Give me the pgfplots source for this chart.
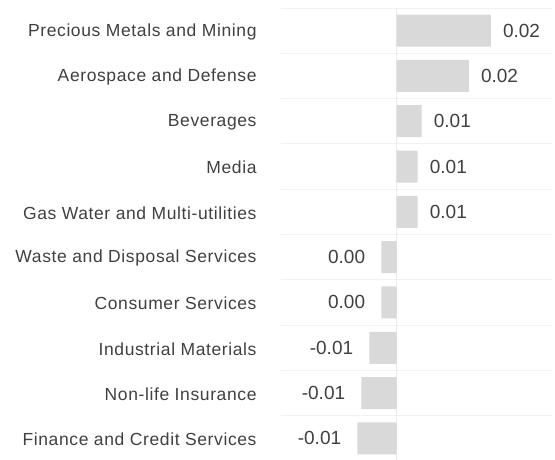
\documentclass[border=0pt]{standalone}
\usepackage{pgfplots}
\pgfplotsset{compat=1.18}
\usepackage{pgfplotstable}
\usepackage{fontspec}
\setmainfont{Liberation Sans}
\newfontfamily\labfont[LetterSpace=3.5]{Liberation Sans}
\definecolor{barc}{HTML}{D9D9D9}
\definecolor{txt}{HTML}{404040}
\definecolor{gridc}{HTML}{F2F2F2}
\definecolor{zeroc}{HTML}{EAEAEA}

\pgfplotstableread{
idx val lab
0 0.0236 0.02
1 0.0181 0.02
2 0.0063 0.01
3 0.0053 0.01
4 0.0053 0.01
}\pos
\pgfplotstableread{
idx val lab
5 -0.0038 0.00
6 -0.0038 0.00
7 -0.0068 -0.01
8 -0.0088 -0.01
9 -0.0098 -0.01
}\negv

\begin{document}
\begin{tikzpicture}
\path[use as bounding box] (0,0) rectangle (555pt,460pt);
\begin{axis}[
  at={(281pt,-1pt)}, anchor=south west,
  scale only axis, width=271pt, height=453pt,
  xmin=-0.0289, xmax=0.0389,
  ymin=-0.5, ymax=9.5, y dir=reverse,
  xbar, bar width=32pt,
  axis line style={draw=none},
  tick style={draw=none},
  xtick=\empty,
  extra x ticks={0}, extra x tick labels={},
  extra x tick style={xmajorgrids=true, major grid style={draw=zeroc, line width=1pt}},
  ytick={0,...,9},
  yticklabels={Precious Metals and Mining, Aerospace and Defense, Beverages, Media, Gas Water and Multi-utilities, Waste and Disposal Services, Consumer Services, Industrial Materials, Non-life Insurance, Finance and Credit Services},
  yticklabel style={font=\labfont\fontsize{17.5}{20}\selectfont, text=txt, inner sep=0pt, xshift=-20pt, yshift=-1pt, anchor=east},
  minor ytick={-0.5,0.5,...,8.5},
  yminorgrids=true,
  minor grid style={draw=gridc, line width=0.8pt},
  nodes near coords,
  point meta=explicit symbolic,
  every node near coord/.append style={font=\fontsize{19}{22}\selectfont, text=txt, inner sep=0pt},
]
\addplot[fill=barc, draw=none, bar shift=0pt, every node near coord/.append style={anchor=west, xshift=12pt}]
  table[x=val, y=idx, meta=lab] {\pos};
\addplot[fill=barc, draw=none, bar shift=0pt, every node near coord/.append style={anchor=east, xshift=-16pt}]
  table[x=val, y=idx, meta=lab] {\negv};
\end{axis}
\end{tikzpicture}
\end{document}
